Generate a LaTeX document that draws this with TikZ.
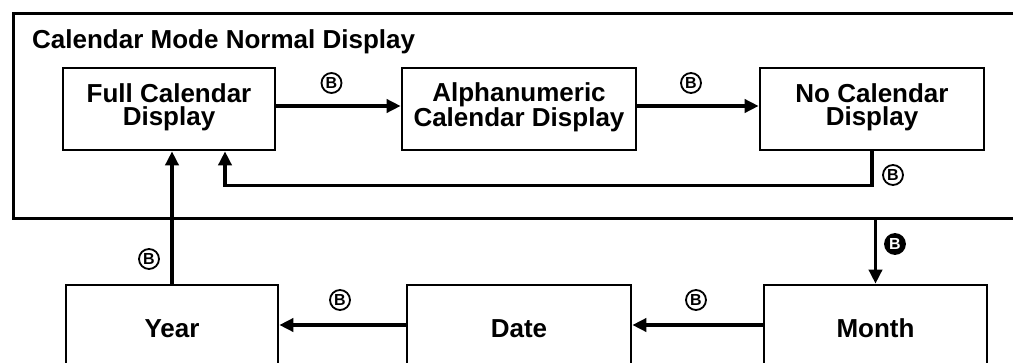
\documentclass[tikz,border=0pt]{standalone}
\usepackage{fontspec}
\setmainfont{Liberation Sans}
\usetikzlibrary{arrows.meta}
\begin{document}
\begin{tikzpicture}[x=1pt,y=-1pt,
  box/.style={draw, line width=2.6pt, rectangle, align=center, inner sep=0pt,
    font=\fontsize{26}{23}\selectfont\bfseries},
  boxtext/.style={align=center, inner sep=0pt, font=\fontsize{26}{23}\selectfont\bfseries},
  frm/.style={draw, line width=3pt, rectangle, inner sep=0pt},
  conn/.style={line width=3.6pt, -{Triangle[length=14pt,width=13pt]}},
  bl/.style={circle, draw, line width=1.8pt, minimum size=20pt, inner sep=0pt,
    font=\fontsize{16}{16}\selectfont\bfseries},
  blf/.style={bl, fill=black, text=white},
  ttl/.style={anchor=base west, inner sep=0pt, font=\fontsize{26}{26}\selectfont\bfseries}]
\useasboundingbox (0,0) rectangle (1013,362);
\clip (0,0) rectangle (1013,362);
\node[frm, minimum width=1030pt, minimum height=205pt, anchor=north west] (frame) at (12,12) {};
\node[ttl] (title) at (32,48) {Calendar Mode Normal Display};
\node[box, minimum width=212pt, minimum height=82pt] (full) at (169,109) {};
\node[box, minimum width=234pt, minimum height=82pt] (alpha) at (519,109) {};
\node[box, minimum width=224pt, minimum height=82pt] (nocal) at (872,109) {};
\node[boxtext] (fullt) at (full.center) [yshift=2pt] {Full Calendar\\Display};
\node[boxtext] (alphat) at (alpha.center) [yshift=2pt] {Alphanumeric\\Calendar Display};
\node[boxtext] (nocalt) at (nocal.center) [yshift=2pt] {No Calendar\\Display};
\node[box, minimum width=212pt, minimum height=87pt] (year) at (172,328.5) {Year};
\node[box, minimum width=224pt, minimum height=87pt] (date) at (519,328.5) {Date};
\node[box, minimum width=223pt, minimum height=87pt] (month) at (875.5,328.5) {Month};
\draw[conn] ([yshift=3pt]full.east) -- ([yshift=3pt]alpha.west);
\draw[conn] ([yshift=3pt]alpha.east) -- ([yshift=3pt]nocal.west);
\draw[conn] (nocal.south) -- ++(0,34) -| ([xshift=56pt]full.south);
\draw[conn] (year.north) -- (year.north |- full.south);
\draw[conn] (frame.south -| month.north) -- (month.north);
\draw[conn] ([yshift=3.5pt]month.west) -- ([yshift=3.5pt]date.east);
\draw[conn] ([yshift=3.5pt]date.west) -- ([yshift=3.5pt]year.east);
\node[bl] (b1) at (331.5,83) {B};
\node[bl] (b2) at (691,83) {B};
\node[bl] (b3) at (893,175) {B};
\node[blf] (b4) at (895,244) {B};
\node[bl] (b5) at (149,259) {B};
\node[bl] (b6) at (340,300) {B};
\node[bl] (b7) at (696,300) {B};
\end{tikzpicture}
\end{document}
